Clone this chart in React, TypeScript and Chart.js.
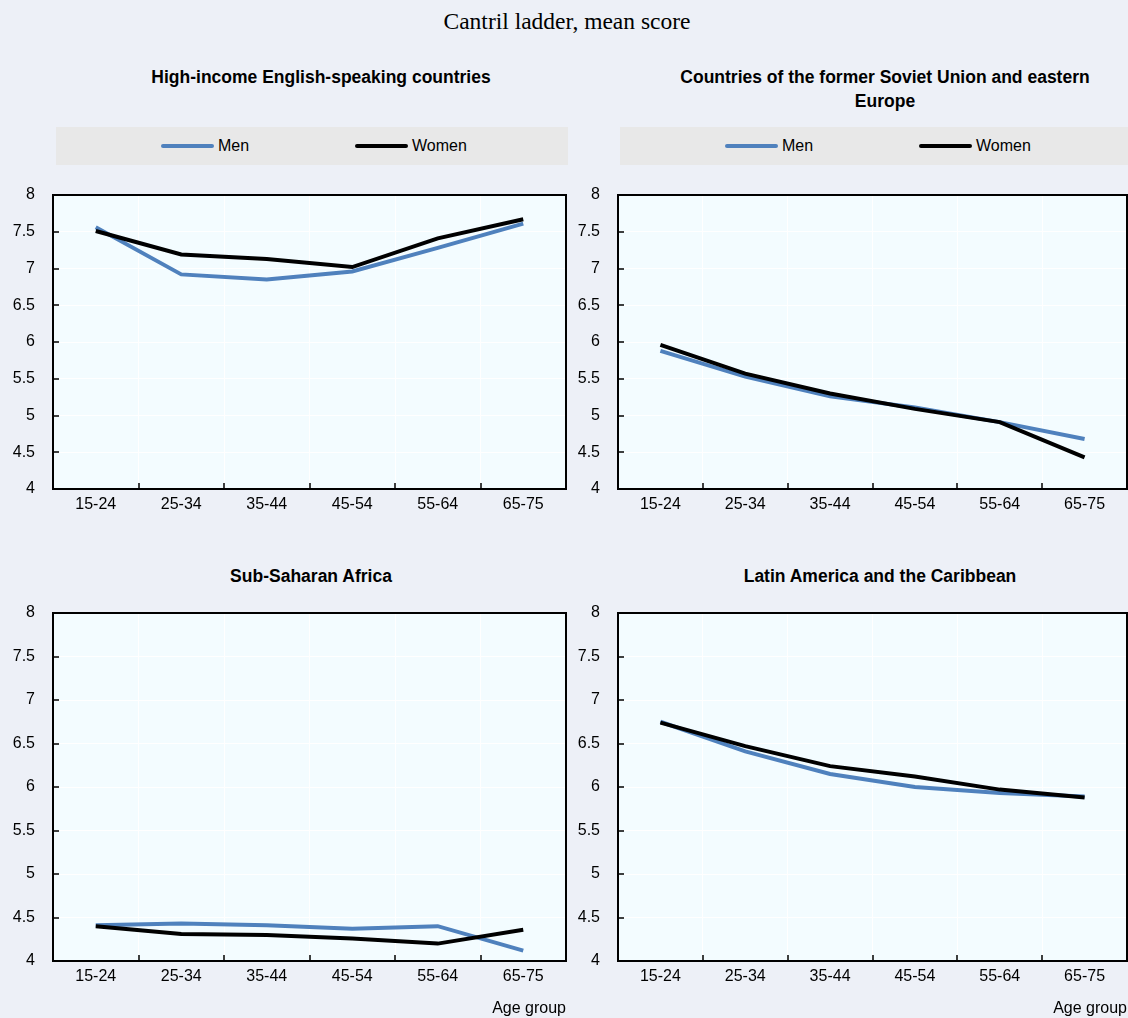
import React, { useEffect, useRef } from 'react';
import { Chart, registerables } from 'chart.js';

Chart.register(...registerables);

// ---------- data ----------
const AGE_GROUPS = ['15-24', '25-34', '35-44', '45-54', '55-64', '65-75'];

const HI_MEN = [7.56, 6.92, 6.85, 6.96, 7.28, 7.61];
const HI_WOMEN = [7.51, 7.19, 7.13, 7.02, 7.41, 7.67];

const FSU_MEN = [5.88, 5.53, 5.26, 5.11, 4.91, 4.68];
const FSU_WOMEN = [5.96, 5.57, 5.3, 5.09, 4.91, 4.43];

const SSA_MEN = [4.41, 4.43, 4.41, 4.37, 4.4, 4.12];
const SSA_WOMEN = [4.4, 4.31, 4.3, 4.26, 4.2, 4.36];

const LAC_MEN = [6.75, 6.41, 6.15, 6.0, 5.93, 5.89];
const LAC_WOMEN = [6.74, 6.47, 6.24, 6.12, 5.97, 5.88];

const SERIES_NAMES = ['Men', 'Women'];
const Y_MIN = 4;
const Y_MAX = 8;
const Y_STEP = 0.5;

const MAIN_TITLE = 'Cantril ladder, mean score';
const X_TITLE = 'Age group';

// ---------- styles ----------
const SANS = "'Liberation Sans', Arial, Helvetica, sans-serif";
const SERIF = "'Liberation Serif', 'Times New Roman', Times, serif";
const TICK_FONT = { family: SANS, size: 16, lineHeight: '20px' };

const PAGE_BG = '#EDF0F7';
const PLOT_BG = '#F3FCFF';
const LEGEND_BG = '#E8E8E8';
const MEN_COLOR = '#4F81BD';
const WOMEN_COLOR = '#000000';

const plotBgPlugin = {
  id: 'plotBg',
  beforeDraw(chart: any) {
    const { ctx, chartArea: a } = chart;
    ctx.save();
    ctx.fillStyle = PLOT_BG;
    ctx.fillRect(a.left, a.top, a.right - a.left, a.bottom - a.top);
    ctx.restore();
  },
};

const framePlugin = {
  id: 'frame',
  afterDraw(chart: any) {
    const { ctx, chartArea: a, scales } = chart;
    ctx.save();
    ctx.strokeStyle = '#000';
    ctx.lineWidth = 2;
    ctx.strokeRect(a.left, a.top, a.right - a.left, a.bottom - a.top);
    ctx.lineWidth = 1.5;
    ctx.beginPath();
    const xs = scales.x;
    for (let i = 0; i < AGE_GROUPS.length - 1; i++) {
      const px = Math.round(xs.getPixelForValue(i + 0.5));
      ctx.moveTo(px, a.bottom);
      ctx.lineTo(px, a.bottom - 6);
    }
    const ys = scales.y;
    ys.ticks.forEach((t: any) => {
      const py = Math.round(ys.getPixelForValue(t.value));
      ctx.moveTo(a.left, py);
      ctx.lineTo(a.left + 6, py);
    });
    ctx.stroke();
    ctx.restore();
  },
};

type PanelProps = {
  left: number;
  top: number;
  width: number;
  height: number;
  men: number[];
  women: number[];
  xHeight: number;
  showXTitle: boolean;
};

function Panel({ left, top, width, height, men, women, xHeight, showXTitle }: PanelProps) {
  const ref = useRef<HTMLCanvasElement>(null);
  useEffect(() => {
    const chart = new Chart(ref.current as HTMLCanvasElement, {
      type: 'line',
      data: {
        labels: AGE_GROUPS,
        datasets: [
          {
            label: SERIES_NAMES[0],
            data: men,
            borderColor: MEN_COLOR,
            backgroundColor: MEN_COLOR,
            borderWidth: 4,
            pointRadius: 0,
            tension: 0,
            fill: false,
            order: 1,
          },
          {
            label: SERIES_NAMES[1],
            data: women,
            borderColor: WOMEN_COLOR,
            backgroundColor: WOMEN_COLOR,
            borderWidth: 4,
            pointRadius: 0,
            tension: 0,
            fill: false,
            order: 0,
          },
        ],
      },
      options: {
        animation: false,
        responsive: false,
        maintainAspectRatio: false,
        devicePixelRatio: 1,
        layout: { padding: { top: 0, right: 1, left: 0, bottom: 0 } },
        plugins: {
          legend: { display: false },
          title: { display: false },
          tooltip: { enabled: false },
        },
        events: [],
        scales: {
          x: {
            type: 'category',
            offset: true,
            grid: { offset: true, color: '#FFFFFF', lineWidth: 1, drawTicks: false },
            border: { display: false },
            ticks: {
              color: '#000',
              font: TICK_FONT,
              padding: 6,
              maxRotation: 0,
              autoSkip: false,
            },
            title: {
              display: showXTitle,
              text: X_TITLE,
              align: 'end',
              color: '#000',
              font: { family: SANS, size: 16 },
              padding: 0,
            },
            afterFit: (s: any) => {
              s.height = xHeight;
            },
          },
          y: {
            type: 'linear',
            min: Y_MIN,
            max: Y_MAX,
            grid: { color: '#FFFFFF', lineWidth: 1, drawTicks: false },
            border: { display: false },
            ticks: {
              stepSize: Y_STEP,
              color: '#000',
              font: TICK_FONT,
              padding: 18,
              callback: (v: any) => String(v),
            },
            afterFit: (s: any) => {
              s.width = 53;
            },
          },
        },
      } as any,
      plugins: [plotBgPlugin, framePlugin],
    });
    return () => chart.destroy();
  }, []);
  return (
    <canvas
      ref={ref}
      width={width}
      height={height}
      style={{ position: 'absolute', left, top, width, height }}
    />
  );
}

function Legend({ left, top, width }: { left: number; top: number; width: number }) {
  const item = (offset: number, color: string, text: string) => (
    <div
      style={{
        position: 'absolute',
        left: offset,
        top: 0,
        height: 38,
        display: 'flex',
        alignItems: 'center',
        whiteSpace: 'nowrap',
      }}
    >
      <div style={{ width: 53, height: 4, background: color, borderRadius: 2 }} />
      <span style={{ marginLeft: 4, font: `16px ${SANS}`, color: '#000' }}>{text}</span>
    </div>
  );
  return (
    <div
      style={{
        position: 'absolute',
        left,
        top,
        width,
        height: 38,
        background: LEGEND_BG,
      }}
    >
      {item(105, MEN_COLOR, SERIES_NAMES[0])}
      {item(299, WOMEN_COLOR, SERIES_NAMES[1])}
    </div>
  );
}

function PanelTitle({ cx, top, lines }: { cx: number; top: number; lines: string[] }) {
  return (
    <div
      style={{
        position: 'absolute',
        left: cx,
        top,
        transform: 'translateX(-50%)',
        textAlign: 'center',
        whiteSpace: 'nowrap',
        font: `bold 17.5px/24px ${SANS}`,
        color: '#000',
      }}
    >
      {lines.map((l, i) => (
        <div key={i}>{l}</div>
      ))}
    </div>
  );
}

export default function App() {
  useEffect(() => {
    document.body.style.margin = '0';
    document.body.style.background = PAGE_BG;
  }, []);
  return (
    <div
      style={{
        position: 'relative',
        width: 1128,
        height: 1018,
        background: PAGE_BG,
        overflow: 'hidden',
      }}
    >
      <div
        style={{
          position: 'absolute',
          left: 567,
          top: 9,
          transform: 'translateX(-50%)',
          whiteSpace: 'nowrap',
          font: `23.5px/24px ${SERIF}`,
          color: '#000',
        }}
      >
        {MAIN_TITLE}
      </div>

      <PanelTitle cx={321} top={65} lines={['High-income English-speaking countries']} />
      <PanelTitle
        cx={885}
        top={65}
        lines={['Countries of the former Soviet Union and eastern', 'Europe']}
      />
      <PanelTitle cx={311} top={564} lines={['Sub-Saharan Africa']} />
      <PanelTitle cx={880} top={564} lines={['Latin America and the Caribbean']} />

      <Legend left={56} top={127} width={512} />
      <Legend left={620} top={127} width={508} />

      <Panel left={0} top={167} width={567} height={352} men={HI_MEN} women={HI_WOMEN} xHeight={30} showXTitle={false} />
      <Panel left={565} top={167} width={563} height={352} men={FSU_MEN} women={FSU_WOMEN} xHeight={30} showXTitle={false} />
      <Panel left={0} top={585} width={567} height={433} men={SSA_MEN} women={SSA_WOMEN} xHeight={57} showXTitle={true} />
      <Panel left={565} top={585} width={563} height={433} men={LAC_MEN} women={LAC_WOMEN} xHeight={57} showXTitle={true} />
    </div>
  );
}
